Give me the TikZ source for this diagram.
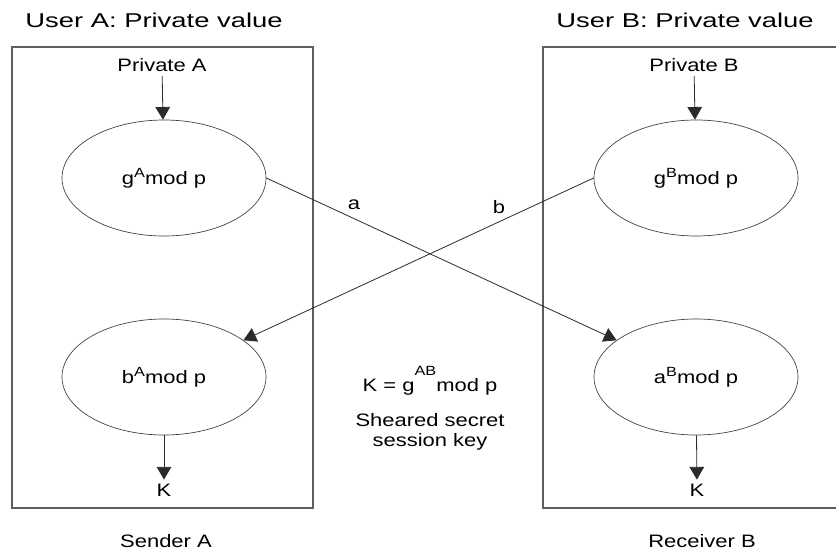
\documentclass[tikz,border=0pt]{standalone}
\usepackage{fontspec}
\setmainfont[FakeStretch=1.22]{Liberation Sans}
\newfontfamily\ttlfont[FakeStretch=1.37]{Liberation Sans}
\usetikzlibrary{arrows.meta,shapes.geometric}
\definecolor{framegray}{HTML}{5E5E5E}
\definecolor{ovalline}{HTML}{3C3C3C}
\definecolor{wireline}{HTML}{2A2A2A}
\newcommand{\supr}[2]{\raisebox{#1}{\fontsize{10pt}{10pt}\selectfont #2}}
\tikzset{
  frame/.style={draw=framegray, line width=0.9pt},
  oval/.style={ellipse, draw=ovalline, line width=0.5pt, minimum width=153pt, minimum height=87pt, inner sep=0pt, font=\fontsize{13.5pt}{15pt}\selectfont},
  arr/.style={-{Triangle[length=9.5pt,width=11pt]}, draw=wireline, line width=0.6pt},
  lbl/.style={font=\fontsize{13.5pt}{15pt}\selectfont, inner sep=3pt},
  wlbl/.style={font=\fontsize{13.5pt}{15pt}\selectfont, inner sep=0pt},
  ttl/.style={font=\ttlfont\fontsize{15pt}{17pt}\selectfont, inner sep=0pt},
}

\begin{document}
\begin{tikzpicture}[x=0.75pt,y=0.75pt]
  \useasboundingbox (0,0) rectangle (836,-552);
  \node[ttl] (ttlA) at (154.000,-20.000) {User A: Private value};
  \node[ttl] (ttlB) at (685.000,-20.000) {User B: Private value};
  \draw[frame] (12.000,-47.000) rectangle (313.000,-508.000);
  \draw[frame] (543.000,-47.000) rectangle (845.000,-508.000);
  \node[lbl] (privA) at (162.000,-65.000) {Private A};
  \node[lbl] (privB) at (694.000,-65.000) {Private B};
  \node[oval] (gA) at (164.000,-178.000) {g\supr{5.5pt}{A}mod p};
  \node[oval] (gB) at (696.000,-178.000) {g\supr{5.5pt}{B}mod p};
  \node[oval] (bA) at (164.000,-377.000) {b\supr{5.5pt}{A}mod p};
  \node[oval] (aB) at (696.000,-377.000) {a\supr{5.5pt}{B}mod p};
  \node[lbl] (kA) at (164.000,-490.000) {K};
  \node[lbl] (kB) at (697.000,-490.000) {K};
  \node[lbl] (sendA) at (166.000,-541.000) {Sender A};
  \node[lbl] (recvB) at (702.000,-541.000) {Receiver B};
  \node[wlbl, anchor=base] (keyK) at (430.000,-392.000) {K = g\supr{12pt}{AB}mod p};
  \node[lbl, align=center] (keyS) at (430.000,-432.000) {Sheared secret\\session key};
  \draw[arr] (privA) -- (gA);
  \draw[arr] (privB) -- (gB);
  \draw[arr] (bA) -- (kA);
  \draw[arr] (aB) -- (kB);
  \draw[arr] (gA.east) -- node[wlbl, pos=0.25, above=6pt] {a} (aB);
  \draw[arr] (gB.west) -- node[wlbl, pos=0.27, above=6pt] {b} (bA);
\end{tikzpicture}
\end{document}
